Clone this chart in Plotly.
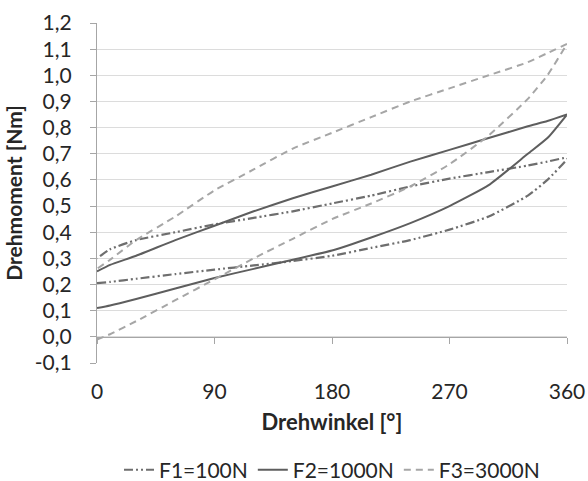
import plotly.graph_objects as go

# Angle grid (degrees)
angles = [0, 10, 30, 60, 90, 120, 150, 180, 210, 240, 270, 300, 330, 345, 360]

# Lower (loading) and upper (unloading) branches per series
f1_lower = [0.205, 0.21, 0.222, 0.24, 0.257, 0.273, 0.29, 0.31, 0.34, 0.37, 0.41, 0.46, 0.54, 0.60, 0.68]
f1_upper = [0.30, 0.335, 0.37, 0.40, 0.43, 0.455, 0.48, 0.51, 0.54, 0.575, 0.605, 0.63, 0.655, 0.67, 0.685]

f2_lower = [0.11, 0.12, 0.145, 0.185, 0.225, 0.26, 0.295, 0.33, 0.38, 0.435, 0.50, 0.58, 0.70, 0.76, 0.85]
f2_upper = [0.25, 0.275, 0.31, 0.37, 0.425, 0.48, 0.53, 0.575, 0.62, 0.67, 0.715, 0.76, 0.805, 0.825, 0.85]

f3_lower = [-0.01, 0.01, 0.06, 0.14, 0.22, 0.30, 0.375, 0.45, 0.51, 0.575, 0.66, 0.77, 0.91, 1.0, 1.12]
f3_upper = [0.26, 0.295, 0.37, 0.46, 0.56, 0.64, 0.72, 0.78, 0.84, 0.90, 0.95, 1.0, 1.05, 1.085, 1.12]

series_names = ["F1=100N", "F2=1000N", "F3=3000N"]

x_ticks = [0, 90, 180, 270, 360]
y_ticks = [-0.1, 0.0, 0.1, 0.2, 0.3, 0.4, 0.5, 0.6, 0.7, 0.8, 0.9, 1.0, 1.1, 1.2]
y_ticklabels = ["-0,1", "0,0", "0,1", "0,2", "0,3", "0,4", "0,5", "0,6", "0,7", "0,8", "0,9", "1,0", "1,1", "1,2"]

FONT = "Lato"

def loop(lower, upper):
    xs = angles + angles[::-1]
    ys = lower + upper[::-1]
    return xs, ys

styles = [
    dict(color="#6e6e6e", width=2.2, dash="9px,3px,2px,3px,2px,3px"),
    dict(color="#5e5e5e", width=2, dash="solid"),
    dict(color="#a6a6a6", width=2, dash="7px,5px"),
]

fig = go.Figure()
for name, lo, up, st in zip(series_names, [f1_lower, f2_lower, f3_lower],
                            [f1_upper, f2_upper, f3_upper], styles):
    xs, ys = loop(lo, up)
    fig.add_trace(go.Scatter(x=xs, y=ys, mode="lines", name=name, line=st,
                             line_shape="spline", line_smoothing=0.5))

# dummy trace for label axis
fig.add_trace(go.Scatter(x=[0, 360], y=[0, 0], xaxis="x2", mode="lines",
                         line=dict(width=0), showlegend=False, hoverinfo="skip"))

fig.update_layout(
    width=588, height=481,
    margin=dict(l=97, r=21, t=23, b=118, autoexpand=False),
    plot_bgcolor="white", paper_bgcolor="white",
    font=dict(family=FONT, size=21, color="#262626"),
    showlegend=True,
    legend=dict(orientation="h", x=0.5, xanchor="center", y=-0.315, yanchor="middle",
                font=dict(size=21, color="#262626"), itemwidth=30, tracegroupgap=0),
    xaxis=dict(range=[0, 360], anchor="free", position=0.1/1.3,
               showline=True, linecolor="#a6a6a6", linewidth=1.3,
               ticks="outside", ticklen=6, tickcolor="#a6a6a6", tickwidth=1.3,
               tickvals=x_ticks, showticklabels=False, showgrid=False, zeroline=False),
    xaxis2=dict(range=[0, 360], overlaying="x", anchor="y", side="bottom",
                tickvals=x_ticks, ticktext=[str(v) for v in x_ticks],
                showline=False, showgrid=False, zeroline=False, ticks="",
                ticklabelstandoff=14, automargin=False,
                title=dict(text="<b>Drehwinkel [°]</b>", font=dict(size=22), standoff=12)),
    yaxis=dict(range=[-0.1, 1.2], tickvals=y_ticks, ticktext=y_ticklabels,
               showline=True, linecolor="#a6a6a6", linewidth=1.3,
               ticks="outside", ticklen=6, tickcolor="#a6a6a6", tickwidth=1.3,
               showgrid=True, gridcolor="#dcdcdc", gridwidth=1.3, zeroline=False,
               ticklabelstandoff=14, automargin=False,
               title=dict(text="<b>Drehmoment [Nm]</b>", font=dict(size=21), standoff=6)),
)

fig.write_html("out.html", config={"displayModeBar": False},
               post_script="document.body.style.margin='0';")
